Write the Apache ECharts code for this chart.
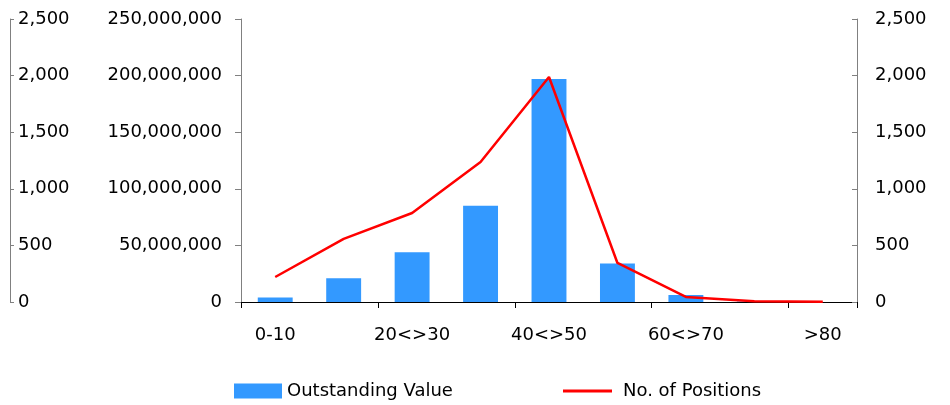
<!DOCTYPE html>
<html>
<head>
<meta charset="utf-8">
<script src="https://cdn.jsdelivr.net/npm/echarts@6/dist/echarts.min.js"></script>
<style>
  html, body { margin: 0; padding: 0; background: #fff; }
  #chart { width: 950px; height: 405px; }
</style>
</head>
<body>
<div id="chart"></div>
<script>
// data
var categories = ["0-10", "10<>20", "20<>30", "30<>40", "40<>50", "50<>60", "60<>70", "70<>80", ">80"];
var outstandingValue = [4000000, 21000000, 44000000, 85000000, 197000000, 34000000, 6200000, 400000, 100000];
var noOfPositions = [221, 557, 786, 1237, 1988, 345, 45, 6, 2];

var font = "DejaVu Sans";
var numFmt = function (v) { return v.toLocaleString("en-US"); };

var myChart = echarts.init(document.getElementById("chart"));

var option = {
  animation: false,
  textStyle: { fontFamily: font },
  grid: { left: 241, right: 93, top: 19, bottom: 103 },
  legend: [
    {
      left: 229,
      top: 377,
      itemWidth: 48,
      itemHeight: 15,
      itemGap: 7,
      textStyle: { fontFamily: font, fontSize: 18, color: "#000" },
      data: [{ name: "Outstanding Value", icon: "rect" }]
    },
    {
      // thin line icon for the line series
      left: 558,
      top: 377,
      itemWidth: 49,
      itemHeight: 3,
      textStyle: { fontFamily: font, fontSize: 18, color: "#000", padding: [0, 0, 0, 6] },
      data: [{ name: "No. of Positions", icon: "rect" }]
    }
  ],
  xAxis: {
    type: "category",
    data: categories,
    boundaryGap: true,
    axisLine: { lineStyle: { color: "#000", width: 1 } },
    axisTick: { show: true, length: 6, lineStyle: { color: "#000" } },
    axisLabel: { interval: 1, margin: 24, fontSize: 18, color: "#000", fontFamily: font }
  },
  yAxis: [
    {
      // outer left axis (positions)
      type: "value",
      position: "left",
      offset: 231,
      min: 0, max: 2500, interval: 500,
      splitLine: { show: false },
      axisLine: { show: true, lineStyle: { color: "#808080" } },
      axisTick: { show: true, inside: true, length: 4, lineStyle: { color: "#808080" } },
      axisLabel: { inside: true, margin: 8, fontSize: 18, color: "#000", fontFamily: font, formatter: numFmt }
    },
    {
      // inner left axis (value)
      type: "value",
      position: "left",
      min: 0, max: 250000000, interval: 50000000,
      splitLine: { show: false },
      axisLine: { show: true, lineStyle: { color: "#808080" } },
      axisTick: { show: true, length: 6, lineStyle: { color: "#808080" } },
      axisLabel: { margin: 19, fontSize: 18, color: "#000", fontFamily: font, formatter: numFmt }
    },
    {
      // right axis (positions)
      type: "value",
      position: "right",
      min: 0, max: 2500, interval: 500,
      splitLine: { show: false },
      axisLine: { show: true, lineStyle: { color: "#808080" } },
      axisTick: { show: true, inside: true, length: 5, lineStyle: { color: "#808080" } },
      axisLabel: { margin: 18, fontSize: 18, color: "#000", fontFamily: font, formatter: numFmt }
    }
  ],
  series: [
    {
      name: "Outstanding Value",
      type: "bar",
      yAxisIndex: 1,
      barWidth: "51%",
      itemStyle: { color: "#3399ff" },
      data: outstandingValue
    },
    {
      name: "No. of Positions",
      type: "line",
      yAxisIndex: 2,
      symbol: "none",
      lineStyle: { color: "#ff0000", width: 2.5 },
      itemStyle: { color: "#ff0000" },
      data: noOfPositions
    }
  ]
};

myChart.setOption(option);
</script>
</body>
</html>
